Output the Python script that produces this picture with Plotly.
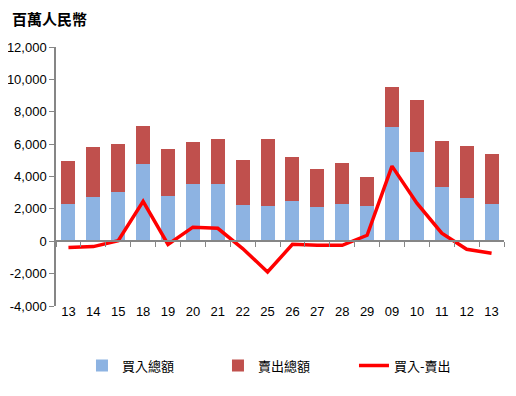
import plotly.graph_objects as go

categories = ["13", "14", "15", "18", "19", "20", "21", "22", "25", "26",
              "27", "28", "29", "09", "10", "11", "12", "13"]
buy = [2290, 2720, 3030, 4760, 2780, 3530, 3530, 2230, 2160, 2470,
       2100, 2290, 2160, 7050, 5500, 3340, 2660, 2290]
sell = [2660, 3090, 2970, 2350, 2910, 2590, 2780, 2780, 4150, 2730,
        2350, 2530, 1800, 2470, 3220, 2840, 3220, 3090]
net = [-390, -330, 40, 2470, -200, 870, 800, -450, -1900, -190,
       -250, -250, 370, 4640, 2350, 500, -500, -740]
y_ticks = [-4000, -2000, 0, 2000, 4000, 6000, 8000, 10000, 12000]
y_ticktext = ["-4,000", "-2,000", "0", "2,000", "4,000", "6,000", "8,000", "10,000", "12,000"]

xs = list(range(len(categories)))
n = len(categories)

fig = go.Figure()
fig.add_trace(go.Bar(x=xs, y=buy, name="買入總額", marker_color="#8DB3E2",
                     marker_line_width=0, width=0.56))
fig.add_trace(go.Bar(x=xs, y=sell, name="賣出總額", marker_color="#C0504D",
                     marker_line_width=0, width=0.56))
fig.add_trace(go.Scatter(x=xs, y=net, name="買入-賣出", mode="lines",
                         line=dict(color="#FF0000", width=3.5)))
# invisible trace so the zero-line category axis renders
fig.add_trace(go.Scatter(x=[0], y=[0], xaxis="x2", mode="markers",
                         marker=dict(opacity=0), showlegend=False, hoverinfo="skip"))

axis_color = "#868686"
W, H = 500, 380
fig.update_layout(
    width=W, height=H,
    margin=dict(l=48, r=4, t=39, b=82, autoexpand=False),
    paper_bgcolor="white", plot_bgcolor="white",
    barmode="stack",
    font=dict(family="Liberation Sans, Arial, sans-serif", size=13, color="black"),
    title=dict(text="<b>百萬人民幣</b>", x=4/W, xanchor="left", xref="container",
               y=1-12/H, yanchor="middle", yref="container",
               font=dict(family="Noto Sans CJK TC", size=15, color="black")),
    xaxis=dict(range=[-0.5, n-0.5], tickmode="array", tickvals=xs, ticktext=categories,
               showline=False, showgrid=False, zeroline=False, automargin=False,
               ticks="", ticklabelstandoff=-4,
               tickfont=dict(size=13)),
    xaxis2=dict(range=[-0.5, n-0.5], overlaying="x", anchor="free", position=0.25,
                side="bottom", tickmode="array", tickvals=[i - 0.5 for i in range(n + 1)],
                showticklabels=False, ticks="outside", ticklen=5, tickcolor=axis_color,
                showline=True, linecolor=axis_color, linewidth=1.5, automargin=False,
                showgrid=False, zeroline=False),
    yaxis=dict(range=[-4000, 12000], tickmode="array", tickvals=y_ticks, ticktext=y_ticktext,
               showline=True, linecolor=axis_color, linewidth=1.5, automargin=False,
               ticks="outside", ticklen=5, tickcolor=axis_color,
               showgrid=False, zeroline=False, tickfont=dict(size=13)),
    legend=dict(orientation="h", x=0.058, xanchor="left", y=-0.23, yanchor="middle",
                traceorder="normal", entrywidth=91, entrywidthmode="pixels",
                font=dict(family="Noto Sans CJK TC", size=13)),
    showlegend=True,
)

fig.write_html("out.html")
